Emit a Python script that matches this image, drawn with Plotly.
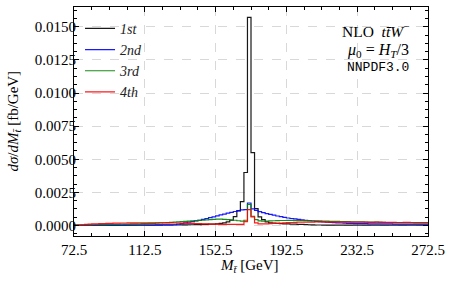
import numpy as np
import plotly.graph_objects as go

# 2 GeV bins from 72.5 to 272.5 GeV
bin_edges = list(np.arange(72.5, 272.5 + 0.001, 2.0))

series_names = ["<i>1st</i>", "<i>2nd</i>", "<i>3rd</i>", "<i>4th</i>"]
series_colors = ["#000000", "#0000ff", "#008000", "#ff0000"]

first = [
    0.00002, 0.00002, 0.00002, 0.00002, 0.00002, 0.00002, 0.00002, 0.00002, 0.00002, 0.00002,
    0.00002, 0.00002, 0.00002, 0.00002, 0.00003, 0.00003, 0.00003, 0.00003, 0.00003, 0.00003,
    0.00003, 0.00003, 0.00003, 0.00003, 0.00003, 0.00004, 0.00004, 0.00004, 0.00004, 0.00004,
    0.00005, 0.00005, 0.00006, 0.00006, 0.00007, 0.00007, 0.00008, 0.00009, 0.00010, 0.00011,
    0.00013, 0.00016, 0.00020, 0.00028, 0.00040, 0.00067, 0.00110, 0.00180, 0.00400, 0.01570,
    0.00550, 0.00127, 0.00065, 0.00045, 0.00027, 0.00021, 0.00019, 0.00017, 0.00015, 0.00013,
    0.00012, 0.00011, 0.00010, 0.00009, 0.00008, 0.00007, 0.00006, 0.00005, 0.00004, 0.00004,
    0.00003, 0.00003, 0.00003, 0.00003, 0.00003, 0.00003, 0.00003, 0.00003, 0.00003, 0.00003,
    0.00003, 0.00003, 0.00003, 0.00003, 0.00003, 0.00003, 0.00003, 0.00003, 0.00003, 0.00003,
    0.00003, 0.00003, 0.00003, 0.00003, 0.00003, 0.00003, 0.00003, 0.00003, 0.00003, 0.00003,
]

second = [
    0.00001, 0.00002, 0.00002, 0.00002, 0.00002, 0.00002, 0.00003, 0.00003, 0.00003, 0.00003,
    0.00003, 0.00003, 0.00003, 0.00003, 0.00003, 0.00004, 0.00004, 0.00004, 0.00004, 0.00004,
    0.00004, 0.00004, 0.00004, 0.00005, 0.00005, 0.00005, 0.00005, 0.00005, 0.00006, 0.00010,
    0.00015, 0.00020, 0.00025, 0.00030, 0.00035, 0.00040, 0.00047, 0.00053, 0.00060, 0.00066,
    0.00073, 0.00080, 0.00086, 0.00093, 0.00100, 0.00106, 0.00112, 0.00118, 0.00120, 0.00170,
    0.00125, 0.00115, 0.00105, 0.00097, 0.00090, 0.00084, 0.00078, 0.00072, 0.00067, 0.00062,
    0.00057, 0.00053, 0.00050, 0.00046, 0.00043, 0.00040, 0.00037, 0.00034, 0.00032, 0.00030,
    0.00028, 0.00026, 0.00024, 0.00022, 0.00020, 0.00019, 0.00018, 0.00017, 0.00016, 0.00015,
    0.00015, 0.00014, 0.00014, 0.00013, 0.00013, 0.00013, 0.00012, 0.00012, 0.00012, 0.00012,
    0.00011, 0.00011, 0.00011, 0.00011, 0.00011, 0.00010, 0.00010, 0.00010, 0.00010, 0.00010,
]

third = [
    0.00003, 0.00004, 0.00004, 0.00005, 0.00005, 0.00006, 0.00006, 0.00007, 0.00007, 0.00008,
    0.00008, 0.00009, 0.00009, 0.00010, 0.00010, 0.00011, 0.00012, 0.00012, 0.00013, 0.00014,
    0.00015, 0.00016, 0.00017, 0.00018, 0.00020, 0.00021, 0.00022, 0.00024, 0.00025, 0.00027,
    0.00029, 0.00031, 0.00033, 0.00035, 0.00037, 0.00039, 0.00041, 0.00043, 0.00045, 0.00047,
    0.00048, 0.00048, 0.00047, 0.00045, 0.00042, 0.00040, 0.00036, 0.00033, 0.00040, 0.00160,
    0.00070, 0.00045, 0.00035, 0.00033, 0.00034, 0.00035, 0.00036, 0.00037, 0.00038, 0.00038,
    0.00039, 0.00039, 0.00039, 0.00038, 0.00038, 0.00037, 0.00037, 0.00036, 0.00035, 0.00035,
    0.00034, 0.00033, 0.00032, 0.00032, 0.00031, 0.00030, 0.00030, 0.00029, 0.00028, 0.00028,
    0.00027, 0.00027, 0.00026, 0.00026, 0.00025, 0.00025, 0.00024, 0.00024, 0.00023, 0.00023,
    0.00022, 0.00022, 0.00022, 0.00021, 0.00021, 0.00021, 0.00020, 0.00020, 0.00020, 0.00020,
]

fourth = [
    0.00002, 0.00004, 0.00006, 0.00008, 0.00010, 0.00012, 0.00013, 0.00014, 0.00015, 0.00016,
    0.00017, 0.00018, 0.00018, 0.00019, 0.00019, 0.00020, 0.00020, 0.00020, 0.00021, 0.00021,
    0.00021, 0.00021, 0.00021, 0.00021, 0.00021, 0.00020, 0.00020, 0.00020, 0.00019, 0.00019,
    0.00018, 0.00018, 0.00017, 0.00016, 0.00015, 0.00014, 0.00013, 0.00012, 0.00011, 0.00010,
    0.00010, 0.00009, 0.00009, 0.00008, 0.00008, 0.00008, 0.00008, 0.00009, 0.00030, 0.00120,
    0.00065, 0.00020, 0.00012, 0.00012, 0.00013, 0.00014, 0.00016, 0.00017, 0.00018, 0.00020,
    0.00022, 0.00023, 0.00024, 0.00025, 0.00025, 0.00026, 0.00026, 0.00026, 0.00027, 0.00027,
    0.00027, 0.00026, 0.00026, 0.00026, 0.00026, 0.00025, 0.00025, 0.00026, 0.00026, 0.00025,
    0.00025, 0.00025, 0.00025, 0.00024, 0.00024, 0.00025, 0.00025, 0.00024, 0.00024, 0.00024,
    0.00024, 0.00023, 0.00023, 0.00024, 0.00024, 0.00023, 0.00023, 0.00023, 0.00023, 0.00023,
]

x_tick_vals = [72.5, 112.5, 152.5, 192.5, 232.5, 272.5]
x_tick_text = ["72.5", "112.5", "152.5", "192.5", "232.5", "272.5"]
y_tick_vals = [0.0, 0.0025, 0.005, 0.0075, 0.01, 0.0125, 0.015]
y_tick_text = ["0.0000", "0.0025", "0.0050", "0.0075", "0.0100", "0.0125", "0.0150"]

SERIF = "Liberation Serif"

fig = go.Figure()
for name, color, vals in zip(series_names, series_colors, [first, second, third, fourth]):
    fig.add_trace(go.Scatter(
        x=bin_edges, y=list(vals) + [vals[-1]],
        mode="lines", line=dict(color=color, width=1.2, shape="hv"),
        name=name, opacity=0.9,
    ))

axis_common = dict(
    showline=True, linecolor="black", linewidth=1, mirror="allticks",
    ticks="inside", ticklen=5, tickwidth=1, tickcolor="black",
    showgrid=True, gridcolor="#d8d8d8", gridwidth=0.8, griddash="dash",
    zeroline=False,
    tickfont=dict(family=SERIF, size=15, color="black"),
    minor=dict(ticks="inside", ticklen=3, tickcolor="black", showgrid=False),
)

fig.update_xaxes(range=[72.5, 272.5], tickvals=x_tick_vals, ticktext=x_tick_text,
                 **axis_common)
fig.update_xaxes(minor=dict(dtick=10, tick0=72.5))
fig.update_yaxes(range=[-0.00079, 0.01649], tickvals=y_tick_vals, ticktext=y_tick_text,
                 ticklabelstandoff=-6, **axis_common)
fig.update_yaxes(minor=dict(dtick=0.000625, tick0=0))

fig.update_layout(
    width=454, height=283,
    margin=dict(l=74, r=26, t=7, b=47),
    paper_bgcolor="white", plot_bgcolor="white",
    showlegend=True,
    legend=dict(x=0.017, y=0.975, xanchor="left", yanchor="top",
                bgcolor="rgba(0,0,0,0)", borderwidth=0,
                font=dict(family=SERIF, size=14, color="#222"),
                itemwidth=30, tracegroupgap=0),
    font=dict(family=SERIF, color="black"),
)

fig.add_annotation(text="<i>M</i><sub><i>t\u0304</i></sub> [GeV]", xref="paper", yref="paper",
                   x=0.495, y=-0.085, xanchor="center", yanchor="top", showarrow=False,
                   font=dict(family=SERIF, size=15, color="black"))
fig.add_annotation(text="<i>d\u03c3</i>/<i>dM</i><sub><i>t\u0304</i></sub> [fb/GeV]", xref="paper", yref="paper",
                   x=-0.172, y=0.5, xanchor="center", yanchor="middle", textangle=-90, showarrow=False,
                   font=dict(family=SERIF, size=15, color="black"))

fig.add_annotation(text="NLO\u00a0\u00a0<i>tt\u0304W</i><sup>\u2212</sup>", xref="paper", yref="paper",
                   x=0.952, y=0.90, xanchor="right", yanchor="middle", showarrow=False,
                   font=dict(family=SERIF, size=15.5, color="black"))
fig.add_annotation(text="<i>\u03bc</i><sub>0</sub> = <i>H</i><sub><i>T</i></sub>/3", xref="paper", yref="paper",
                   x=0.952, y=0.81, xanchor="right", yanchor="middle", showarrow=False,
                   font=dict(family=SERIF, size=16, color="black"))
fig.add_annotation(text="NNPDF3.0", xref="paper", yref="paper",
                   x=0.952, y=0.735, xanchor="right", yanchor="middle", showarrow=False,
                   font=dict(family="Liberation Mono", size=13, color="black"))

fig.write_html("out.html", config={"displayModeBar": False},
               post_script="document.body.style.margin='0';")
